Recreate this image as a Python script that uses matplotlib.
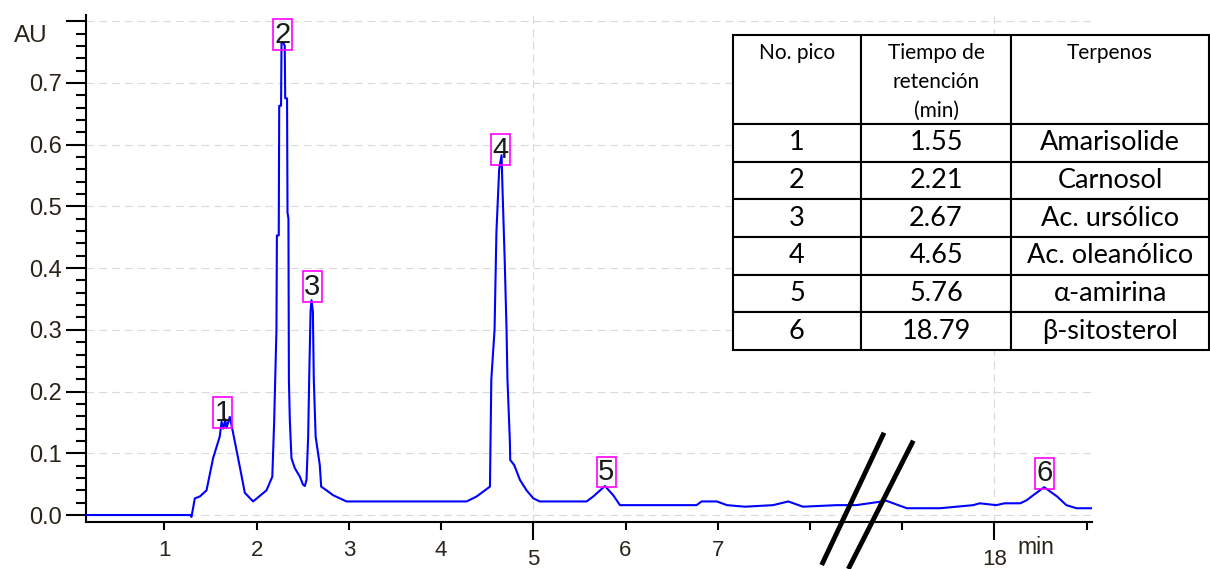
import numpy as np
import matplotlib
matplotlib.use('Agg')
import matplotlib.pyplot as plt
from matplotlib.ticker import FixedLocator, FixedFormatter

plt.rcParams['font.family'] = ['Liberation Sans', 'DejaVu Sans']

# cromatograma (tiempo de retención en min, absorbancia en AU)
rt = [0.15, 1.28, 1.294, 1.33, 1.384, 1.457, 1.528, 1.60, 1.62, 1.64, 1.66, 1.673,
      1.709, 1.745, 1.818, 1.872, 1.962, 2.107, 2.17, 2.19, 2.215, 2.22, 2.24, 2.245,
      2.265, 2.27, 2.29, 2.305, 2.31, 2.33, 2.335, 2.345, 2.35, 2.36, 2.378, 2.414,
      2.469, 2.504, 2.523, 2.541, 2.559, 2.57, 2.585, 2.595, 2.61, 2.62, 2.64, 2.685,
      2.70, 2.758, 2.83, 2.975, 4.277, 4.385, 4.53, 4.545, 4.58, 4.60, 4.63, 4.656,
      4.667, 4.69, 4.71, 4.72, 4.746, 4.75, 4.793, 4.855, 4.927, 5.0, 5.07, 5.578,
      5.65, 5.777, 5.867, 5.94, 6.77, 6.825, 6.99, 7.10, 7.295, 7.60, 7.765, 7.924,
      8.29, 8.5, 16.5, 16.83, 17.05, 17.41, 17.77, 17.84, 18.02, 18.11, 18.28, 18.35,
      18.42, 18.54, 18.68, 18.78, 18.89, 19.055]
au = [0.0, 0.0, -0.003, 0.027, 0.030, 0.040, 0.092, 0.127, 0.151, 0.140, 0.155, 0.141,
      0.159, 0.133, 0.078, 0.036, 0.022, 0.040, 0.062, 0.150, 0.300, 0.453, 0.453, 0.663,
      0.663, 0.765, 0.765, 0.760, 0.675, 0.675, 0.490, 0.480, 0.220, 0.154, 0.092, 0.076,
      0.062, 0.049, 0.047, 0.057, 0.127, 0.220, 0.330, 0.348, 0.330, 0.220, 0.127, 0.081,
      0.046, 0.040, 0.032, 0.022, 0.022, 0.030, 0.046, 0.220, 0.300, 0.457, 0.560, 0.583,
      0.524, 0.413, 0.300, 0.219, 0.120, 0.089, 0.081, 0.057, 0.040, 0.027, 0.022, 0.022,
      0.030, 0.047, 0.032, 0.016, 0.016, 0.022, 0.022, 0.016, 0.0135, 0.016, 0.022, 0.0135,
      0.016, 0.016, 0.016, 0.023, 0.011, 0.011, 0.016, 0.019, 0.016, 0.019, 0.019, 0.024,
      0.032, 0.045, 0.030, 0.016, 0.011, 0.011]

# picos marcados
peak_labels = ['1', '2', '3', '4', '5', '6']
peak_rt = [1.633, 2.28, 2.604, 4.649, 5.79, 18.545]
peak_top = [0.143, 0.755, 0.347, 0.569, 0.047, 0.045]

# tabla de terpenos
table_cols = ['No. pico', 'Tiempo de\nretención\n(min)', 'Terpenos']
table_pico = ['1', '2', '3', '4', '5', '6']
table_tr = ['1.55', '2.21', '2.67', '4.65', '5.76', '18.79']
table_terp = ['Amarisolide', 'Carnosol', 'Ac. ursólico', 'Ac. oleanólico',
              'α-amirina', 'β-sitosterol']
col_widths = [128, 151, 198]

# ejes
x_major = [5, 18]
x_minor = [1, 2, 3, 4, 6, 7, 8, 17, 19]
x_minor_labels = ['1', '2', '3', '4', '6', '7', '', '', '']
y_major = [0.0, 0.1, 0.2, 0.3, 0.4, 0.5, 0.6, 0.7, 0.8]
y_labels = ['0.0', '0.1', '0.2', '0.3', '0.4', '0.5', '0.6', '0.7', '']

# eje x cortado entre 8.5 y 16.5 min
corte = (8.5, 16.5)


def fwd(t):
    t = np.asarray(t, dtype=float)
    return np.where(t <= corte[0], t,
                    np.where(t >= corte[1], t - (corte[1] - corte[0]), corte[0]))


def inv(u):
    u = np.asarray(u, dtype=float)
    return np.where(u <= corte[0], u, u + (corte[1] - corte[0]))


W, H = 1210, 569
fig = plt.figure(figsize=(W / 100, H / 100), dpi=100)
ax = fig.add_axes([86 / W, 47 / H, (1091.7 - 86) / W, 507 / H])
ax.set_xscale('function', functions=(fwd, inv))

ax.plot(rt, au, color='#0000ff', lw=1.5, zorder=3)
ax.set_xlim(0.15, 19.055)
ax.set_ylim(-0.0113, 0.81)

for s in ['top', 'right']:
    ax.spines[s].set_visible(False)
for s in ['left', 'bottom']:
    ax.spines[s].set_linewidth(1.5)

ax.xaxis.set_major_locator(FixedLocator(x_major))
ax.xaxis.set_major_formatter(FixedFormatter([str(v) for v in x_major]))
ax.xaxis.set_minor_locator(FixedLocator(x_minor))
ax.xaxis.set_minor_formatter(FixedFormatter(x_minor_labels))
ax.yaxis.set_major_locator(FixedLocator(y_major))
ax.yaxis.set_major_formatter(FixedFormatter(y_labels))
ax.yaxis.set_minor_locator(FixedLocator(np.arange(0, 0.81, 0.02)))

tick_col = '#2a2418'
ax.tick_params(axis='y', which='major', length=14.4, width=1.5, pad=3,
               labelsize=17, labelcolor=tick_col)
ax.tick_params(axis='y', which='minor', length=7.2, width=1.5)
ax.tick_params(axis='x', which='major', length=12.7, width=1.5, pad=6.5,
               labelsize=16, labelcolor=tick_col)
ax.tick_params(axis='x', which='minor', length=5.8, width=1.5, pad=7.5,
               labelsize=16, labelcolor=tick_col)

ax.grid(True, which='major', linestyle=(0, (7, 4.5)), color='#dadada', lw=0.8)
ax.set_axisbelow(True)

ax.text(-0.038, 0.958, 'AU', transform=ax.transAxes, ha='right', va='center',
        fontsize=17.5, color=tick_col)
ax.text(0.926, -0.05, 'min', transform=ax.transAxes, ha='left', va='center',
        fontsize=16.5, color=tick_col)

# etiquetas de los picos
for lab, t, v in zip(peak_labels, peak_rt, peak_top):
    ax.text(t, v, lab, ha='center', va='bottom', fontsize=21, color='#1a1a1a',
            bbox=dict(boxstyle='square,pad=0.05', fc='none', ec='#ff00ff', lw=1.2),
            clip_on=False, zorder=4)

# marcas de corte
ax.plot([0.7315, 0.7935], [-0.0848, 0.1761], transform=ax.transAxes, color='k',
        lw=3.5, clip_on=False, zorder=5, solid_capstyle='butt')
ax.plot([0.7580, 0.8226], [-0.0927, 0.1604], transform=ax.transAxes, color='k',
        lw=3.5, clip_on=False, zorder=5, solid_capstyle='butt')

# tabla
tax = fig.add_axes([733 / W, (H - 350) / H, (1209 - 733) / W, (350 - 35) / H])
tax.axis('off')
rows = [list(r) for r in zip(table_pico, table_tr, table_terp)]
tbl = tax.table(cellText=rows, colLabels=[''] * 3, cellLoc='center',
                colWidths=col_widths, bbox=[0, 0, 1, 1])
tbl.auto_set_font_size(False)
for (r, c), cell in tbl.get_celld().items():
    cell.set_linewidth(1.5)
    cell.set_edgecolor('black')
    cell.set_facecolor('white')
    txt = cell.get_text()
    txt.set_fontfamily(['Lato', 'DejaVu Sans'])
    if r == 0:
        cell.set_height(89)
    else:
        cell.set_height(37.7)
        txt.set_fontsize(19.5)

# encabezados (alineados arriba en la celda)
bordes = np.concatenate([[0], np.cumsum(col_widths)]) / sum(col_widths)
for i, lab in enumerate(table_cols):
    xc = (bordes[i] + bordes[i + 1]) / 2
    tax.text(xc, 0.974, lab, ha='center', va='top', fontsize=15,
             linespacing=1.55, family=['Lato', 'DejaVu Sans'], zorder=10)

fig.savefig('out.png', dpi=100)
